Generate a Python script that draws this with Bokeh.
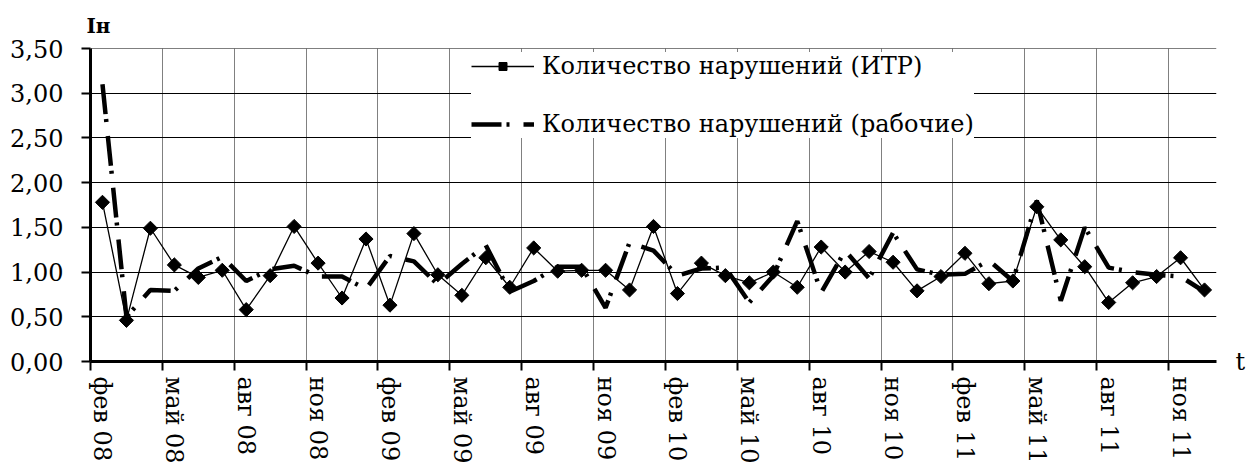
from bokeh.plotting import figure
from bokeh.models import Range1d, FixedTicker, LinearAxis, Legend, LegendItem, Span
from bokeh.embed import file_html
from bokeh.resources import INLINE
from math import pi

# ---- data ----
months = ["фев 08", "мар 08", "апр 08", "май 08", "июн 08", "июл 08", "авг 08", "сен 08", "окт 08", "ноя 08", "дек 08",
          "янв 09", "фев 09", "мар 09", "апр 09", "май 09", "июн 09", "июл 09", "авг 09", "сен 09", "окт 09", "ноя 09", "дек 09",
          "янв 10", "фев 10", "мар 10", "апр 10", "май 10", "июн 10", "июл 10", "авг 10", "сен 10", "окт 10", "ноя 10", "дек 10",
          "янв 11", "фев 11", "мар 11", "апр 11", "май 11", "июн 11", "июл 11", "авг 11", "сен 11", "окт 11", "ноя 11", "дек 11"]

itr = [1.78, 0.46, 1.49, 1.08, 0.94, 1.02, 0.58, 0.96, 1.51, 1.10,
       0.71, 1.37, 0.63, 1.43, 0.97, 0.74, 1.16, 0.83, 1.27, 1.01,
       1.02, 1.02, 0.80, 1.51, 0.76, 1.10, 0.96, 0.88, 1.00, 0.83,
       1.28, 1.00, 1.23, 1.11, 0.79, 0.95, 1.21, 0.87, 0.90, 1.73,
       1.36, 1.06, 0.66, 0.88, 0.95, 1.16, 0.80]

workers = [3.10, 0.50, 0.80, 0.79, 1.04, 1.17, 0.90, 1.03, 1.07, 0.95,
           0.95, 0.81, 1.18, 1.12, 0.86, 1.09, 1.30, 0.78, 0.90, 1.06,
           1.06, 0.60, 1.33, 1.24, 0.96, 1.04, 1.05, 0.66, 0.96, 1.57,
           0.77, 1.24, 0.93, 1.44, 1.03, 0.97, 0.98, 1.13, 0.90, 1.80,
           0.68, 1.50, 1.05, 1.00, 0.97, 0.95, 0.78]

y_ticks = [0.0, 0.5, 1.0, 1.5, 2.0, 2.5, 3.0, 3.5]
y_tick_labels = ["0,00", "0,50", "1,00", "1,50", "2,00", "2,50", "3,00", "3,50"]
label_every = 3

series_names = ["Количество нарушений (ИТР)", "Количество нарушений (рабочие)"]
y_title = "Iн"
x_title = "t"

# ---- figure ----
FONT = "DejaVu Serif"
FS = "24px"
n = len(months)
x = list(range(n))

p = figure(width=1248, height=466, output_backend="svg", toolbar_location=None,
           x_range=Range1d(-0.5, n - 0.5), y_range=Range1d(0, 3.5),
           min_border_left=90, min_border_right=27, min_border_top=48, min_border_bottom=104)
p.outline_line_color = None
p.background_fill_color = "white"
p.border_fill_color = "white"

boundaries = [i - 0.5 for i in range(0, n - 1, label_every)]
centers = [i for i in range(0, n, label_every)]

# title "Iн" above the y axis
p.title.text = y_title
p.title.align = "left"
p.title.offset = -4
p.title.standoff = 21
p.title.text_font = FONT
p.title.text_font_size = "20px"
p.title.text_font_style = "bold"
p.title.text_color = "black"

# x axis A: ticks at category boundaries, no labels
xa = p.xaxis[0]
xa.ticker = FixedTicker(ticks=boundaries)
xa.major_label_overrides = {b: "" for b in boundaries}
xa.major_label_text_font_size = "1px"
xa.major_label_standoff = 0
xa.axis_line_width = 3
xa.axis_line_color = "black"
xa.major_tick_out = 9
xa.major_tick_in = 0
xa.major_tick_line_width = 2
xa.minor_tick_line_color = None

# x axis B: month labels at category centers
xb = LinearAxis(ticker=FixedTicker(ticks=centers),
                major_label_overrides={c: months[c] for c in centers},
                major_label_orientation="vertical",
                axis_line_color=None, major_tick_line_color=None, minor_tick_line_color=None,
                major_tick_out=0, major_tick_in=0, major_label_standoff=6,
                major_label_text_font=FONT, major_label_text_font_size=FS,
                major_label_text_color="black")
p.add_layout(xb, "below")

# right axis carrying the "t" label
xr = LinearAxis(ticker=FixedTicker(ticks=[0.0]), major_label_overrides={0.0: x_title},
                axis_line_color=None, major_tick_line_color=None, minor_tick_line_color=None,
                major_tick_out=0, major_tick_in=0, major_label_standoff=19,
                major_label_text_font=FONT, major_label_text_font_size=FS,
                major_label_text_color="black", major_label_text_baseline="top")
p.add_layout(xr, "right")

# y axis
ya = p.yaxis[0]
ya.ticker = FixedTicker(ticks=y_ticks)
ya.major_label_overrides = {t: l for t, l in zip(y_ticks, y_tick_labels)}
ya.major_label_text_font = FONT
ya.major_label_text_font_size = FS
ya.major_label_text_color = "black"
ya.major_label_standoff = 18
ya.axis_line_width = 3
ya.axis_line_color = "black"
ya.major_tick_out = 9
ya.major_tick_in = 0
ya.major_tick_line_width = 2
ya.minor_tick_line_color = None

# grids
p.xgrid.ticker = FixedTicker(ticks=boundaries + [n - 0.5])
p.xgrid.grid_line_color = "#808080"
p.xgrid.grid_line_width = 1
p.ygrid.ticker = FixedTicker(ticks=y_ticks)
p.ygrid.grid_line_color = "black"
p.ygrid.grid_line_width = 1

# series
r1 = p.line(x, itr, line_color="black", line_width=1.3)
r1m = p.scatter(x, itr, marker="square", size=10, angle=pi / 4,
                fill_color="black", line_color="black")
r2 = p.line(x, workers, line_color="black", line_width=4.5, line_dash="30 5 3 14")

legend = Legend(items=[LegendItem(label=series_names[0], renderers=[r1, r1m]),
                       LegendItem(label=series_names[1], renderers=[r2])],
                location=(381, 223), padding=20, spacing=30,
                glyph_width=63, glyph_height=20, label_height=20, label_standoff=8,
                label_text_font=FONT, label_text_font_size=FS, label_text_color="black",
                background_fill_color="white", background_fill_alpha=1.0,
                border_line_color=None)
p.add_layout(legend)

top_line = Span(location=3.5, dimension="width", line_color="black", line_width=1, level="overlay")
p.add_layout(top_line)

open("out.html", "w").write(file_html(p, INLINE))
